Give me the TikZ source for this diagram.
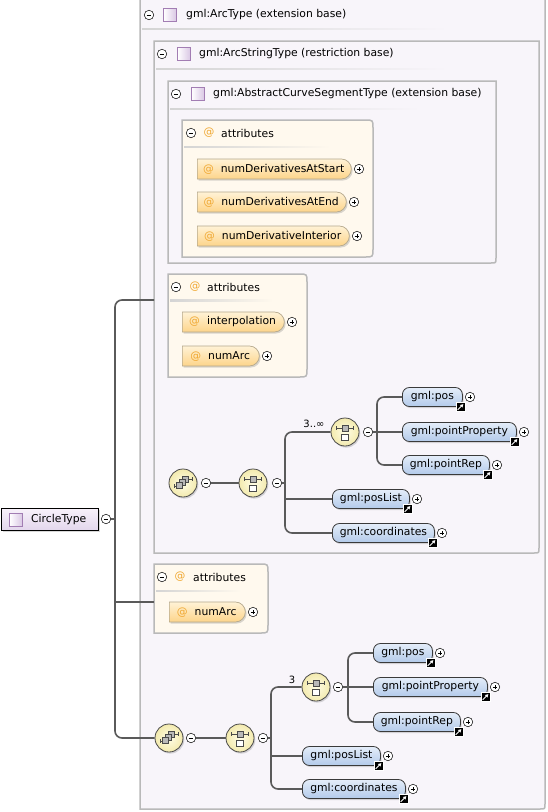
\documentclass[tikz,border=0pt]{standalone}
\usepackage{fontspec}
\setmainfont{DejaVu Sans}
\usetikzlibrary{shapes.misc,shadows,arrows.meta,calc}
\definecolor{bigfill}{HTML}{F8F5FA}
\definecolor{bigborder}{HTML}{B9B9B9}
\definecolor{attrfill}{HTML}{FFF9EE}
\definecolor{attop}{HTML}{FFF2D6}
\definecolor{atbot}{HTML}{FDD48A}
\definecolor{atborder}{HTML}{B5A88C}
\definecolor{atcol}{HTML}{F0A832}
\definecolor{eltop}{HTML}{E4EDF9}
\definecolor{elbot}{HTML}{B3CAEA}
\definecolor{elborder}{HTML}{3A3A3A}
\definecolor{conncol}{HTML}{5A5A5A}
\definecolor{compin}{HTML}{FFFDE6}
\definecolor{compout}{HTML}{F3EAAE}
\definecolor{compborder}{HTML}{4A4A4A}
\definecolor{sqfill}{HTML}{D9C6E4}
\definecolor{sqborder}{HTML}{A27DB3}
\definecolor{sepcol}{HTML}{D4D4D4}
\definecolor{ctop}{HTML}{F7F1FA}
\definecolor{cbot}{HTML}{E3D6EC}
\tikzset{
  every node/.style={font=\fontsize{10.8}{13}\selectfont, inner sep=0pt, text=black},
  conn/.style={draw=conncol, line width=1.6pt, rounded corners=7pt},
  markc/.style={circle, draw=black, line width=0.5pt, fill=white, minimum size=9.5pt, inner sep=0pt},
  minusc/.style={markc, path picture={\draw[line width=0.7pt] ([xshift=-2.4pt]path picture bounding box.center) -- ([xshift=2.4pt]path picture bounding box.center);}},
  plusc/.style={markc, path picture={\draw[line width=0.7pt] ([xshift=-2.4pt]path picture bounding box.center) -- ([xshift=2.4pt]path picture bounding box.center) ([yshift=-2.4pt]path picture bounding box.center) -- ([yshift=2.4pt]path picture bounding box.center);}},
  shad/.style={drop shadow={shadow xshift=1.3pt, shadow yshift=-1.6pt, opacity=0.3}},
  elpill/.style={rectangle, rounded corners=7pt, draw=elborder, line width=0.8pt, top color=eltop, bottom color=elbot, minimum height=19pt, anchor=west, shad},
  atpill/.style={rounded rectangle, rounded rectangle west arc=none, draw=atborder, line width=0.7pt, top color=attop, bottom color=atbot, minimum height=20pt, anchor=west, shad},
  linkbox/.style={rectangle, minimum size=9pt, inner sep=0pt, fill=black, draw=white, line width=0.5pt,
    path picture={\draw[white, line width=0.9pt, -{Triangle[length=3pt,width=3.4pt]}] ([shift={(-2.8pt,-2.8pt)}]path picture bounding box.center) -- ([shift={(2.8pt,2.8pt)}]path picture bounding box.center);}},
  sqicon/.style={rectangle, minimum size=13pt, draw=sqborder, line width=0.8pt, left color=white, right color=sqfill},
  bigbox/.style={draw=bigborder, line width=1.5pt, fill=bigfill},
  attrbox/.style={draw=bigborder, line width=1.5pt, fill=attrfill},
  comp/.style={circle, draw=compborder, line width=0.8pt, inner color=compin, outer color=compout, minimum size=28pt, shad},
  seqglyph/.style={path picture={
    \begin{scope}[shift={(path picture bounding box.center)}, x=1pt, y=1pt]
      \draw[line width=0.6pt] (-9,-3) -- (-5,-3) (-9,-4.7) -- (-9,-1.3);
      \draw[line width=0.6pt] (6,4) -- (9,4) (9,2.3) -- (9,5.7);
      \draw[fill=gray!55, line width=0.5pt] (-0.5,0.5) rectangle (5.5,6.5);
      \draw[fill=gray!55, line width=0.5pt] (-3.5,-2.5) rectangle (2.5,3.5);
      \draw[fill=gray!55, line width=0.5pt] (-6.5,-5.5) rectangle (-0.5,0.5);
    \end{scope}}},
  choiceglyph/.style={path picture={
    \begin{scope}[shift={(path picture bounding box.center)}, x=1pt, y=1pt]
      \draw[line width=0.6pt] (-8.5,4) -- (8.5,4) (-8.5,2.3) -- (-8.5,5.7) (8.5,2.3) -- (8.5,5.7);
      \draw[fill=gray!55, line width=0.5pt] (-3,1) rectangle (3,7);
      \draw[fill=white, line width=0.6pt] (-3.3,-8.3) rectangle (3.3,-2);
    \end{scope}}},
  cbox/.style={rectangle, draw=black, line width=0.9pt, top color=ctop, bottom color=cbot, minimum width=97pt, minimum height=22pt, anchor=west, shad},
}
\newcommand\BigBox[4]{\draw[bigbox] (#1,#2) -- (#3,#2) -- (#3,#4-5) .. controls (#3,#4) .. (#3-5,#4) -- (#1,#4) -- cycle;}
\newcommand\AttrBox[4]{\draw[attrbox] (#1,#2) -- (#3-8,#2) .. controls (#3,#2) .. (#3,#2+8) -- (#3,#4-8) .. controls (#3,#4) .. (#3-8,#4) -- (#1,#4) -- cycle;}
\newcommand\HSep[4]{\shade[left color=sepcol, right color=#4] (#1,#2-0.9) rectangle (#3,#2+0.9);}
\newcommand\TypeHead[6]{%
  \node[minusc] (#1-m) at (#2,#5) {};
  \node[sqicon] (#1-sq) at (#3,#5) {};
  \node[anchor=west] (#1) at (#4,#5) {#6};}
\newcommand\AtHead[5]{%
  \node[minusc] (#1-m) at (#2,#5) {};
  \node[text=atcol] (#1-at) at (#3,#5) {@};
  \node[anchor=west] (#1) at (#4,#5) {attributes};}
\newcommand\AtPill[5]{%
  \node[atpill, minimum width={(#3-#2)*1pt}] (#1) at (#2,#4) {\textcolor{atcol}{@}\hspace{7pt}#5};
  \node[plusc] (#1-plus) at (#3+8,#4) {};}
\newcommand\ElPill[5]{%
  \node[elpill, minimum width={(#3-#2)*1pt}] (#1) at (#2,#4) {#5};
  \node[linkbox] (#1-link) at (#3-1.5,#4+10) {};
  \node[plusc] (#1-plus) at (#3+8,#4) {};}
\begin{document}
\begin{tikzpicture}[x=1pt, y=-1pt]
\useasboundingbox (0,0) rectangle (548,812);
\fill[white] (0,0) rectangle (548,812);
% ---------- containers ----------
\BigBox{140}{-5}{545}{809}
\TypeHead{arcT}{149}{170}{186}{15}{gml:ArcType (extension base)}
\HSep{142}{29}{448}{bigfill}
\BigBox{154}{41}{539}{553}
\TypeHead{arcS}{162}{184}{199}{54}{gml:ArcStringType (restriction base)}
\HSep{156}{69}{448}{bigfill}
\BigBox{168}{81}{496}{263}
\TypeHead{acs}{176}{198}{213}{94}{gml:AbstractCurveSegmentType (extension base)}
\HSep{170}{109}{420}{bigfill}
% attributes 1
\AttrBox{182}{120}{373}{257}
\AtHead{atA}{191}{209}{221}{133}
\HSep{184}{147}{330}{attrfill}
\AtPill{nDS}{197}{351}{169}{numDerivativesAtStart}
\AtPill{nDE}{197}{346}{202}{numDerivativesAtEnd}
\AtPill{nDI}{197}{349}{236}{numDerivativeInterior}
% attributes 2
\AttrBox{168}{274}{307}{377}
\AtHead{atB}{176}{195}{207}{287}
\HSep{170}{300.5}{273}{attrfill}
\AtPill{interp}{182}{284}{322}{interpolation}
\AtPill{nArcA}{182}{259}{356}{numArc}
% attributes 3
\AttrBox{154}{564}{268}{633}
\AtHead{atC}{162}{180}{193}{577}
\HSep{156}{591}{241}{attrfill}
\AtPill{nArcB}{169}{245}{612}{numArc}
% ---------- root ----------
\node[cbox] (circ) at (1,519.5) {};
\node[sqicon] (circ-sq) at (16,519.5) {};
\node[anchor=west] (circ-t) at (31,519.5) {CircleType};
\node[minusc] (circ-m) at (106,519) {};
\coordinate (trk) at (115,519);
\coordinate (arcsL) at (154,300);
\coordinate (at3L) at (154,602);
% ---------- group 1 ----------
\node[comp, seqglyph] (seqA) at (183,483) {};
\node[minusc] (mA1) at (206,483) {};
\node[comp, choiceglyph] (chA) at (253,483) {};
\node[minusc] (mA2) at (277,483) {};
\node[comp, choiceglyph] (chB) at (345,432) {};
\node[minusc] (mB) at (368,432) {};
\ElPill{posA}{402}{462}{397}{gml:pos}
\ElPill{ppA}{402}{516}{432}{gml:pointProperty}
\ElPill{prA}{402}{489}{465}{gml:pointRep}
\ElPill{plA}{332}{409}{499}{gml:posList}
\ElPill{coA}{332}{434}{533}{gml:coordinates}
% ---------- group 2 ----------
\node[comp, seqglyph] (seqB) at (169,738) {};
\node[minusc] (mC1) at (191,738) {};
\node[comp, choiceglyph] (chC) at (240,738) {};
\node[minusc] (mC2) at (263,738) {};
\node[comp, choiceglyph] (chD) at (316,687) {};
\node[minusc] (mD) at (338,687) {};
\ElPill{posB}{373}{432}{653}{gml:pos}
\ElPill{ppB}{373}{487}{687}{gml:pointProperty}
\ElPill{prB}{373}{460}{722}{gml:pointRep}
\ElPill{plB}{302}{380}{756}{gml:posList}
\ElPill{coB}{302}{405}{789}{gml:coordinates}
% ---------- connectors ----------
\draw[conn] (arcsL) -- (115,300) -- (115,738) -- (seqB.west);
\draw[conn] (circ-m.east) -- (trk);
\draw[conn] (trk |- at3L) -- (at3L);
% group 1
\draw[conn] (mA1.east) -- (chA.west);
\draw[conn] (mA2.east) -- (285,483);
\draw[conn] (chB.west) -- (285,432) -- (285,533) -- (coA.west);
\draw[conn] (285,499) -- (plA.west);
\draw[conn] (mB.east) -- (377,432);
\draw[conn] (posA.west) -- (377,397) -- (377,465) -- (prA.west);
\draw[conn] (377,432) -- (ppA.west);
% group 2
\draw[conn] (mC1.east) -- (chC.west);
\draw[conn] (mC2.east) -- (271,738);
\draw[conn] (chD.west) -- (271,687) -- (271,789) -- (coB.west);
\draw[conn] (271,756) -- (plB.west);
\draw[conn] (mD.east) -- (348,687);
\draw[conn] (posB.west) -- (348,653) -- (348,722) -- (prB.west);
\draw[conn] (348,687) -- (ppB.west);
\node[font=\fontsize{10}{12}\selectfont] (cardA) at (314,424) {3..∞};
\node[font=\fontsize{10}{12}\selectfont] (cardB) at (292,680) {3};
\end{tikzpicture}
\end{document}
